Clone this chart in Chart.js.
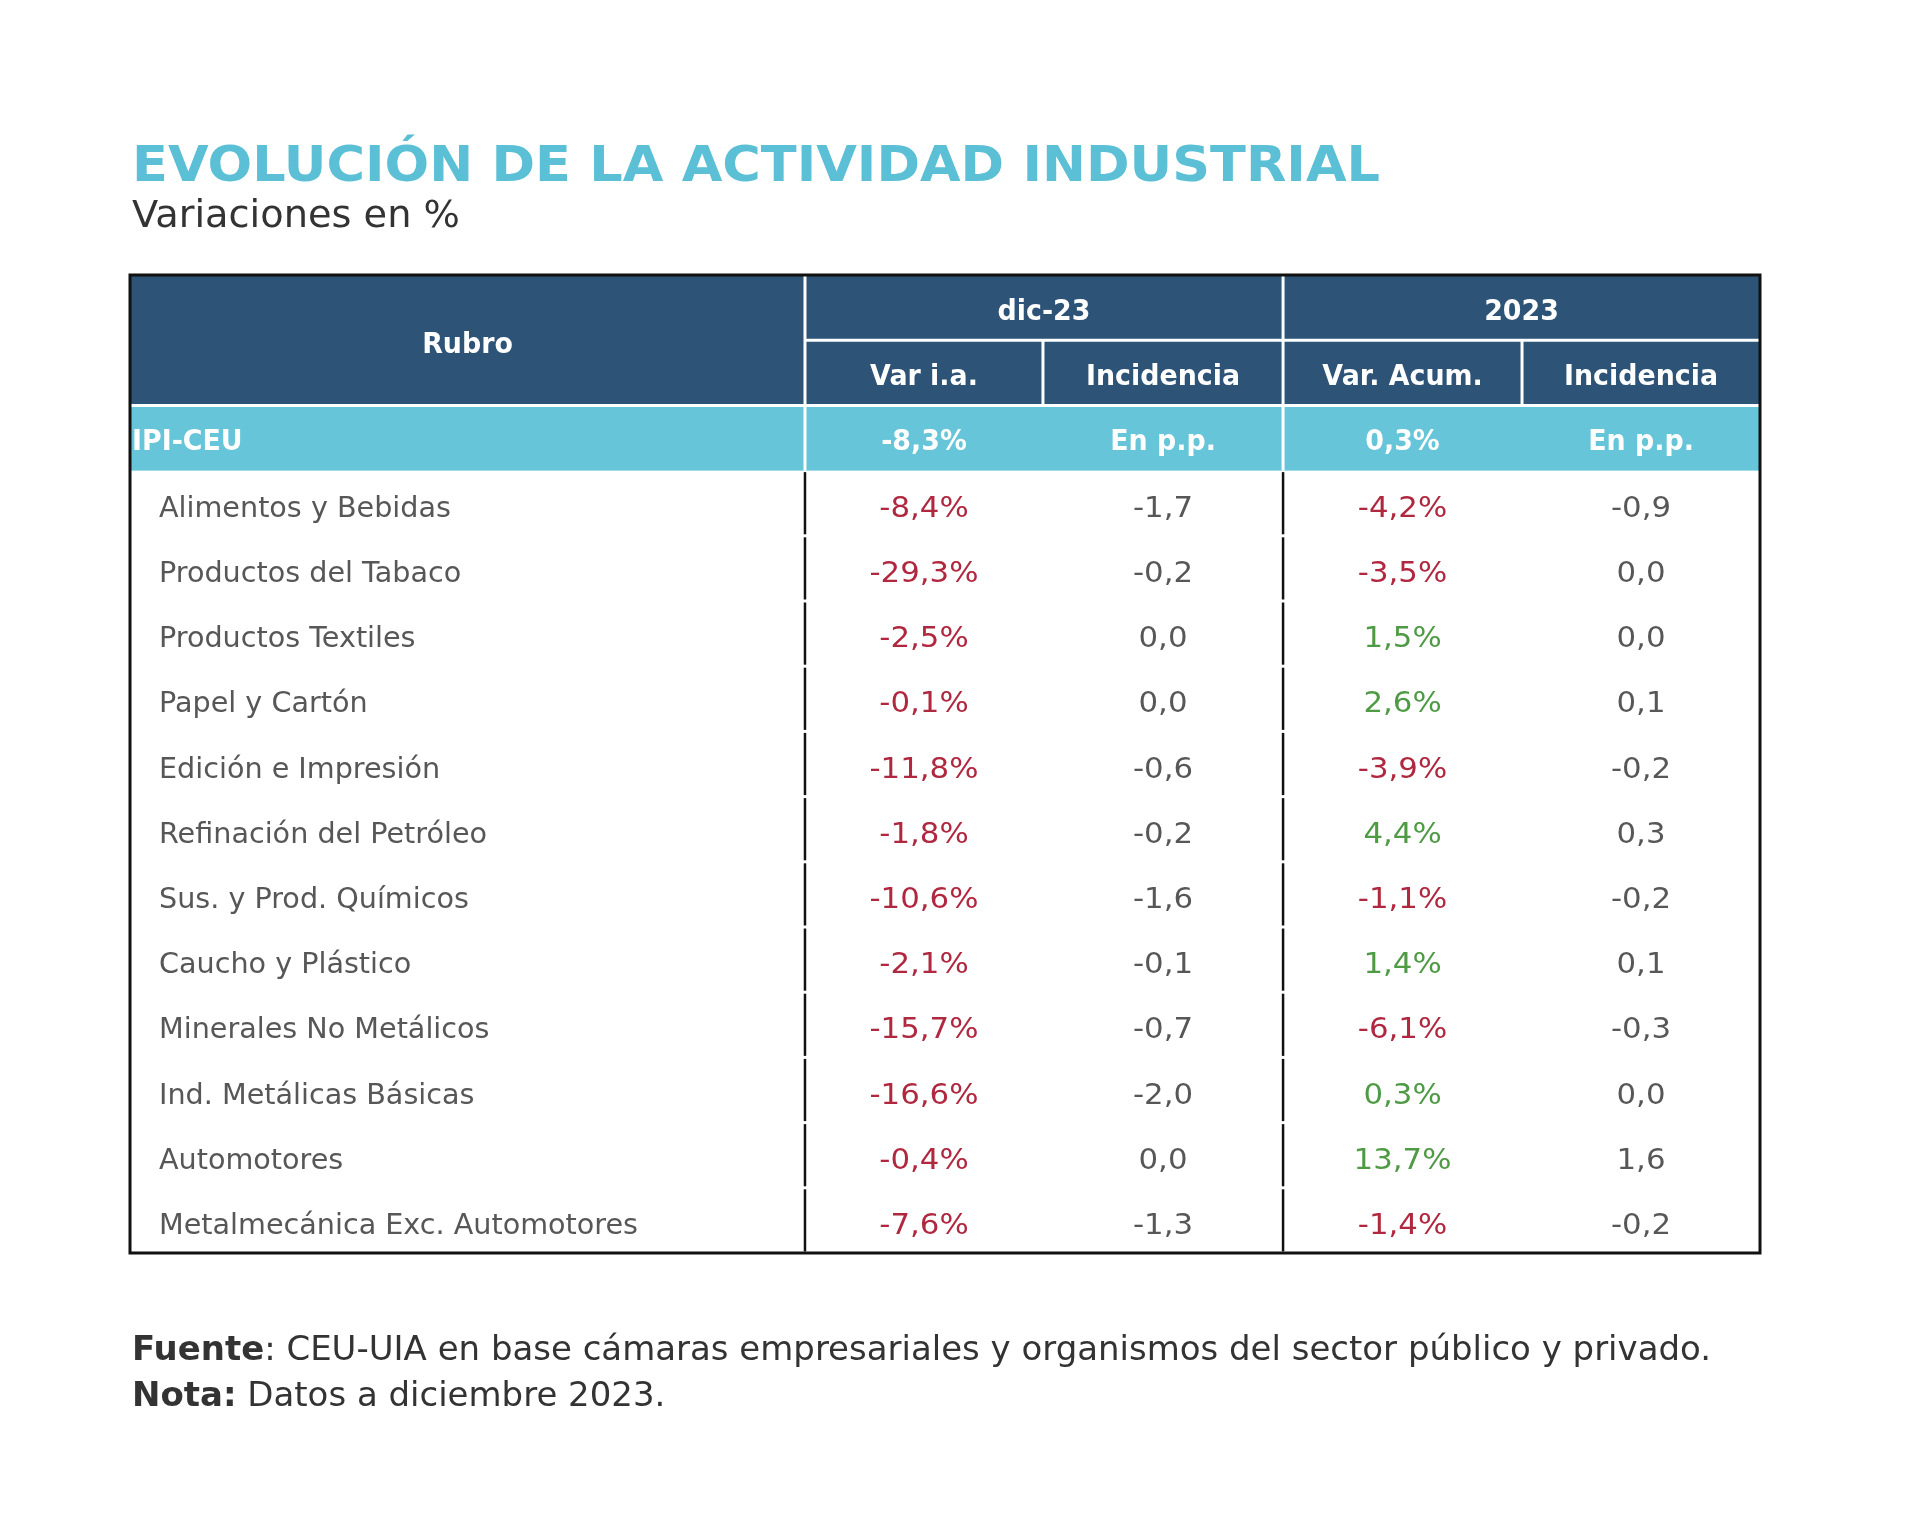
<!DOCTYPE html>
<html>
<head>
<meta charset="utf-8">
<script src="https://cdn.jsdelivr.net/npm/chart.js@4.4.1/dist/chart.umd.min.js"></script>
<style>
  html, body { margin: 0; padding: 0; background: #fff; }
  canvas { display: block; }
</style>
</head>
<body>
<canvas id="myChart" width="1920" height="1537"></canvas>
<script>
// data
const rubros = [
    'Alimentos y Bebidas',
    'Productos del Tabaco',
    'Productos Textiles',
    'Papel y Cartón',
    'Edición e Impresión',
    'Refinación del Petróleo',
    'Sus. y Prod. Químicos',
    'Caucho y Plástico',
    'Minerales No Metálicos',
    'Ind. Metálicas Básicas',
    'Automotores',
    'Metalmecánica Exc. Automotores'
];
const varIaDic = [-8.4, -29.3, -2.5, -0.1, -11.8, -1.8, -10.6, -2.1, -15.7, -16.6, -0.4, -7.6];
const incidenciaDic = [-1.7, -0.2, 0.0, 0.0, -0.6, -0.2, -1.6, -0.1, -0.7, -2.0, 0.0, -1.3];
const varAcum2023 = [-4.2, -3.5, 1.5, 2.6, -3.9, 4.4, -1.1, 1.4, -6.1, 0.3, 13.7, -1.4];
const incidencia2023 = [-0.9, 0.0, 0.0, 0.1, -0.2, 0.3, -0.2, 0.1, -0.3, 0.0, 1.6, -0.2];
const ipiTotal = [-8.3, 0.3];
const periodos = ['dic-23', '2023'];
const columnas = ['Var i.a.', 'Incidencia', 'Var. Acum.', 'Incidencia'];

// layout (table width in %, rows in units)
const colEdges = [0, 41.41, 56.01, 70.74, 85.40, 100];
const headerRows = 3;
const totalRows = headerRows + rubros.length;
const DY = 3; // text nudge

const FONT = '"DejaVu Sans", Verdana, sans-serif';
const DARK = '#2d5377';
const CYAN = '#66c5d9';
const RED = '#b0283f';
const GREEN = '#4f9a45';
const GREY = '#575757';

function fmt(v, pct) {
    return v.toFixed(1).replace('.', ',') + (pct ? '%' : '');
}

function colCenter(i) {
    return (colEdges[i] + colEdges[i + 1]) / 2;
}

function makeDataset(values, col) {
    return {
        data: values.map((v, i) => ({ x: colCenter(col), y: headerRows + i + 0.5 })),
        values: values,
        pct: col % 2 === 1,
        pointRadius: 0,
        showLine: false
    };
}

function scaleFor(ctx, font, ref, target) {
    ctx.font = font;
    return target / ctx.measureText(ref).width;
}

function drawText(ctx, txt, x, y, font, color, align, sx) {
    ctx.save();
    ctx.font = font;
    ctx.fillStyle = color;
    ctx.textAlign = align;
    ctx.textBaseline = 'middle';
    ctx.translate(x, y + DY);
    ctx.scale(sx, 1);
    ctx.fillText(txt, 0, 0);
    ctx.restore();
}

function line(ctx, x1, y1, x2, y2, color, w) {
    ctx.save();
    ctx.strokeStyle = color;
    ctx.lineWidth = w;
    ctx.beginPath();
    ctx.moveTo(x1, y1);
    ctx.lineTo(x2, y2);
    ctx.stroke();
    ctx.restore();
}

const tablePlugin = {
    id: 'tablePlugin',
    beforeDatasetsDraw(chart) {
        const ctx = chart.ctx;
        const xs = chart.scales.x;
        const ys = chart.scales.y;
        const X = v => xs.getPixelForValue(v);
        const Y = v => ys.getPixelForValue(v);

        // header backgrounds
        ctx.fillStyle = DARK;
        ctx.fillRect(X(0), Y(0), X(100) - X(0), Y(2) - Y(0));
        ctx.fillStyle = CYAN;
        ctx.fillRect(X(0), Y(2), X(100) - X(0), Y(3) - Y(2));

        // white separators in header
        line(ctx, X(0), Y(2), X(100), Y(2), '#fff', 3);
        line(ctx, X(colEdges[1]), Y(1), X(100), Y(1), '#fff', 3);
        line(ctx, X(colEdges[1]), Y(0), X(colEdges[1]), Y(3), '#fff', 3);
        line(ctx, X(colEdges[3]), Y(0), X(colEdges[3]), Y(3), '#fff', 3);
        line(ctx, X(colEdges[2]), Y(1), X(colEdges[2]), Y(2), '#fff', 3);
        line(ctx, X(colEdges[4]), Y(1), X(colEdges[4]), Y(2), '#fff', 3);

        // body dividers (small gaps between rows)
        for (let r = headerRows; r < totalRows; r++) {
            [1, 3].forEach(c => {
                line(ctx, X(colEdges[c]), Y(r) + 1.5, X(colEdges[c]), Y(r + 1) - 1.5, '#111', 2.5);
            });
        }

        // outer border
        ctx.save();
        ctx.strokeStyle = '#111';
        ctx.lineWidth = 3;
        ctx.strokeRect(X(0), Y(0), X(100) - X(0), Y(totalRows) - Y(0));
        ctx.restore();

        // header text
        const hFont = 'bold 28px ' + FONT;
        const hsx = scaleFor(ctx, hFont, 'Incidencia', 154);
        drawText(ctx, 'Rubro', X(colCenter(0)), Y(1) + 3, hFont, '#fff', 'center', hsx);
        drawText(ctx, periodos[0], X(colEdges[1] + (colEdges[3] - colEdges[1]) / 2), Y(0.5) + 2, hFont, '#fff', 'center', hsx);
        drawText(ctx, periodos[1], X(colEdges[3] + (colEdges[5] - colEdges[3]) / 2), Y(0.5) + 2, hFont, '#fff', 'center', hsx);
        columnas.forEach((c, i) => {
            drawText(ctx, c, X(colCenter(i + 1)), Y(1.5) + 2, hFont, '#fff', 'center', hsx);
        });

        // IPI-CEU row
        drawText(ctx, 'IPI-CEU', X(0) + 2, Y(2.5) + 2, hFont, '#fff', 'left', hsx);
        drawText(ctx, fmt(ipiTotal[0], true), X(colCenter(1)), Y(2.5) + 2, hFont, '#fff', 'center', hsx);
        drawText(ctx, 'En p.p.', X(colCenter(2)), Y(2.5) + 2, hFont, '#fff', 'center', hsx);
        drawText(ctx, fmt(ipiTotal[1], true), X(colCenter(3)), Y(2.5) + 2, hFont, '#fff', 'center', hsx);
        drawText(ctx, 'En p.p.', X(colCenter(4)), Y(2.5) + 2, hFont, '#fff', 'center', hsx);

        // row labels
        const lFont = '29px ' + FONT;
        const lsx = scaleFor(ctx, lFont, 'Metalmecánica Exc. Automotores', 479);
        rubros.forEach((r, i) => {
            drawText(ctx, r, X(0) + 29, Y(headerRows + i + 0.5) + 3, lFont, GREY, 'left', lsx);
        });
    },
    afterDatasetsDraw(chart) {
        const ctx = chart.ctx;
        const nFont = '29px ' + FONT;
        const nsx = scaleFor(ctx, nFont, '-29,3%', 109);
        chart.data.datasets.forEach((ds, d) => {
            const meta = chart.getDatasetMeta(d);
            meta.data.forEach((pt, i) => {
                const v = ds.values[i];
                const color = ds.pct ? (v < 0 ? RED : GREEN) : GREY;
                drawText(ctx, fmt(v, ds.pct), pt.x, pt.y + 3, nFont, color, 'center', nsx);
            });
        });

        // title, subtitle, notes
        const tFont = 'bold 50px ' + FONT;
        const tText = 'EVOLUCIÓN DE LA ACTIVIDAD INDUSTRIAL';
        drawText(ctx, tText, 132, 165, tFont, '#5bbfd5', 'left', scaleFor(ctx, tFont, tText, 1248));
        const sFont = '37px ' + FONT;
        drawText(ctx, 'Variaciones en %', 132, 214, sFont, '#333', 'left', scaleFor(ctx, sFont, 'Variaciones en %', 328));

        const fb = 'bold 33px ' + FONT;
        const fr = '33px ' + FONT;
        const l1a = 'Fuente', l1b = ': CEU-UIA en base cámaras empresariales y organismos del sector público y privado.';
        ctx.font = fb;
        const wa = ctx.measureText(l1a).width;
        ctx.font = fr;
        const wb = ctx.measureText(l1b).width;
        const fsx = 1579 / (wa + wb);
        drawText(ctx, l1a, 132, 1348, fb, '#333', 'left', fsx);
        drawText(ctx, l1b, 132 + wa * fsx, 1348, fr, '#333', 'left', fsx);
        const l2a = 'Nota:', l2b = ' Datos a diciembre 2023.';
        ctx.font = fb;
        const wc = ctx.measureText(l2a).width;
        drawText(ctx, l2a, 132, 1394, fb, '#333', 'left', fsx);
        drawText(ctx, l2b, 132 + wc * fsx, 1394, fr, '#333', 'left', fsx);
    }
};

const ctx = document.getElementById('myChart').getContext('2d');
const chart = new Chart(ctx, {
    type: 'scatter',
    data: {
        datasets: [
            makeDataset(varIaDic, 1),
            makeDataset(incidenciaDic, 2),
            makeDataset(varAcum2023, 3),
            makeDataset(incidencia2023, 4)
        ]
    },
    options: {
        responsive: false,
        animation: false,
        layout: {
            padding: { left: 130, right: 160, top: 275, bottom: 284 }
        },
        scales: {
            x: { type: 'linear', min: 0, max: 100, display: false },
            y: { type: 'linear', min: 0, max: totalRows, reverse: true, display: false }
        },
        plugins: {
            legend: { display: false },
            tooltip: { enabled: false }
        }
    },
    plugins: [tablePlugin]
});
</script>
</body>
</html>
